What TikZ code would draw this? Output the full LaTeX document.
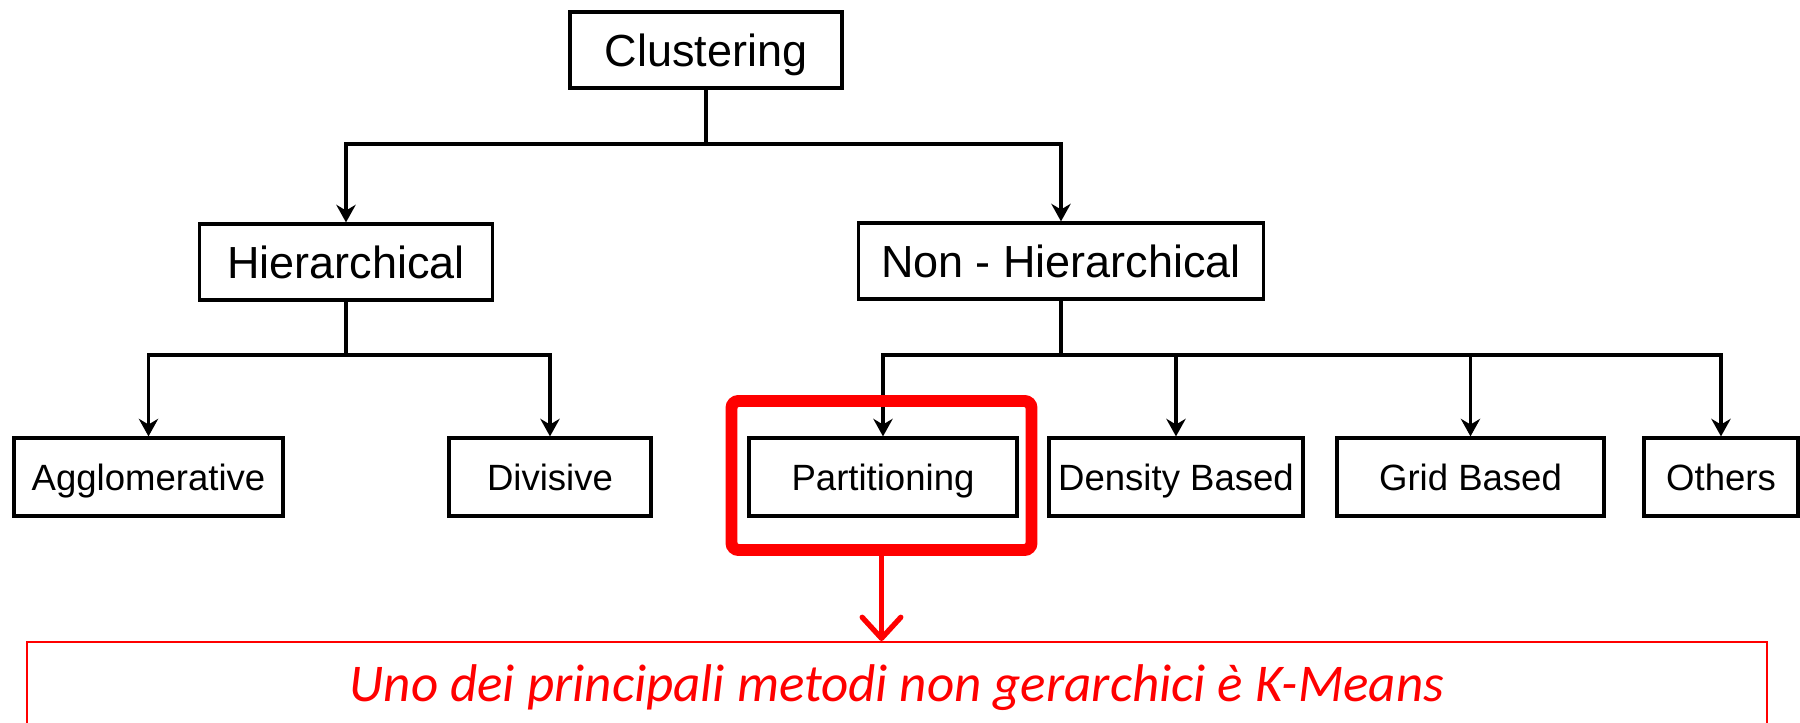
\documentclass[tikz,border=0pt]{standalone}
\usepackage{fontspec}
\setmainfont{Liberation Sans}
\newfontfamily\notefont{Carlito}
\usetikzlibrary{arrows.meta}

\tikzset{
    box/.style={draw, line width=0.9pt, inner sep=0pt, text depth=0pt},
    top/.style={box, minimum height=0.76cm, text height=9.2pt, font=\fontsize{12.8}{14}\selectfont},
    leaf/.style={box, minimum height=0.78cm, text height=7.45pt, font=\fontsize{10.4}{12}\selectfont},
    link/.style={line width=0.9pt, -{Stealth[length=5pt,width=5.5pt]}},
    hilite/.style={draw=red, line width=3.4pt, rounded corners=2pt, inner sep=0pt},
    notebox/.style={draw=red, line width=0.6pt, text=red, inner xsep=0pt, inner ysep=0.24cm,
        text height=0.35cm, text depth=0.1cm, font=\notefont\itshape\fontsize{15.1}{18}\selectfont},
}

\begin{document}
\begin{tikzpicture}

    \useasboundingbox (0,0) rectangle (18,-7.23);
    \clip (0,0) rectangle (18,-7.23);

    % upper levels
    \node[top, minimum width=2.72cm] (clust) at (7.06,-0.50) {Clustering};
    \node[top, minimum width=2.93cm] (hier) at (3.46,-2.62) {Hierarchical};
    \node[top, minimum width=4.05cm] (nonhier) at (10.61,-2.61) {Non - Hierarchical};

    % leaves
    \node[leaf, minimum width=2.69cm] (aggl) at (1.485,-4.77) {Agglomerative};
    \node[leaf, minimum width=2.02cm] (divis) at (5.50,-4.77) {Divisive};
    \node[leaf, minimum width=2.68cm] (part) at (8.83,-4.77) {Partitioning};
    \node[leaf, minimum width=2.54cm] (dens) at (11.76,-4.77) {Density Based};
    \node[leaf, minimum width=2.67cm] (grid) at (14.705,-4.77) {Grid Based};
    \node[leaf, minimum width=1.54cm] (others) at (17.21,-4.77) {Others};

    \coordinate (bus1) at (7.06,-1.44);
    \coordinate (bus2) at (3.46,-3.55);
    \coordinate (bus3) at (10.61,-3.55);

    \draw[link] (clust.south) -- (bus1) -| (hier.north);
    \draw[link] (bus1) -| (nonhier.north);

    \draw[link] (hier.south) -- (bus2) -| (aggl.north);
    \draw[link] (bus2) -| (divis.north);

    \draw[link] (nonhier.south) -- (bus3) -| (part.north);
    \draw[link] (bus3) -| (dens.north);
    \draw[link] (bus3) -| (grid.north);
    \draw[link] (bus3) -| (others.north);

    % highlight and note
    \node[hilite, minimum width=3.0cm, minimum height=1.49cm] (hl) at (8.815,-4.755) {};

    \node[notebox, minimum width=17.40cm, anchor=north] (note) at (8.97,-6.41)
        {Uno dei principali metodi non gerarchici è K-Means};

    \draw[red, line width=1.5pt, -{Straight Barb[round,length=6pt,width=11pt]}]
        (hl.south) -- (hl.south |- note.north);

\end{tikzpicture}
\end{document}
